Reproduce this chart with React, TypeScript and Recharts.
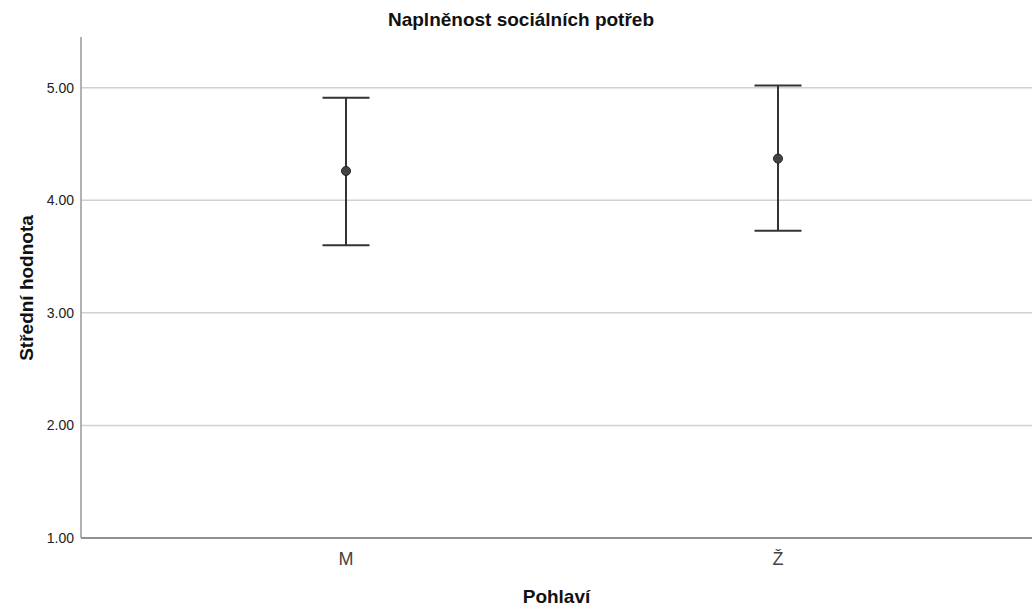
import { ComposedChart, Scatter, ErrorBar, XAxis, YAxis, CartesianGrid, Label } from 'recharts'

const groups = ['M', 'Ž']
const means = [4.26, 4.37]
const lowerCI = [3.6, 3.73]
const upperCI = [4.91, 5.02]
const yTicks = [1, 2, 3, 4, 5]

const data = groups.map((g, i) => ({
  sex: g,
  mean: means[i],
  err: [means[i] - lowerCI[i], upperCI[i] - means[i]],
}))

const font = '"Liberation Sans", Arial, sans-serif'

export default function App() {
  return (
    <div style={{ position: 'absolute', left: 0, top: 0, width: 1032, height: 612, background: '#fff', fontFamily: font }}>
      <div
        style={{
          position: 'absolute',
          left: 0,
          width: 1042,
          top: 9,
          textAlign: 'center',
          fontSize: 19,
          fontWeight: 'bold',
          color: '#111',
        }}
      >
        Naplněnost sociálních potřeb
      </div>
      <ComposedChart width={1032} height={612} data={data} margin={{ top: 37, right: 0, bottom: 0, left: 0 }}>
        <CartesianGrid vertical={false} stroke="#d2d2d2" strokeWidth={1.5} syncWithTicks />
        <XAxis
          dataKey="sex"
          type="category"
          height={74}
          padding={{ left: 265, right: 254 }}
          axisLine={{ stroke: '#777', strokeWidth: 1.5 }}
          tickLine={false}
          tickSize={0}
          tickMargin={14}
          tick={{ fontSize: 18, fill: '#444', fontFamily: font }}
        >
          <Label
            value="Pohlaví"
            position="insideBottom"
            offset={9}
            style={{ fontSize: 19, fontWeight: 'bold', fill: '#111', fontFamily: font }}
          />
        </XAxis>
        <YAxis
          width={81}
          domain={[1, 5.45]}
          ticks={yTicks}
          tickFormatter={(v: number) => v.toFixed(2)}
          axisLine={{ stroke: '#999', strokeWidth: 1.5 }}
          tickLine={false}
          tickSize={0}
          tickMargin={7}
          tick={{ fontSize: 14, fill: '#222', fontFamily: font }}
        >
          <Label
            content={() => (
              <text
                x={33}
                y={288}
                transform="rotate(-90 33 288)"
                textAnchor="middle"
                style={{ fontSize: 19, fontWeight: 'bold', fill: '#111', fontFamily: font }}
              >
                Střední hodnota
              </text>
            )}
          />
        </YAxis>
        <Scatter dataKey="mean" fill="#444" stroke="#222" strokeWidth={1} isAnimationActive={false}>
          <ErrorBar dataKey="err" direction="y" width={23.5} stroke="#333" strokeWidth={2} />
        </Scatter>
      </ComposedChart>
    </div>
  )
}
